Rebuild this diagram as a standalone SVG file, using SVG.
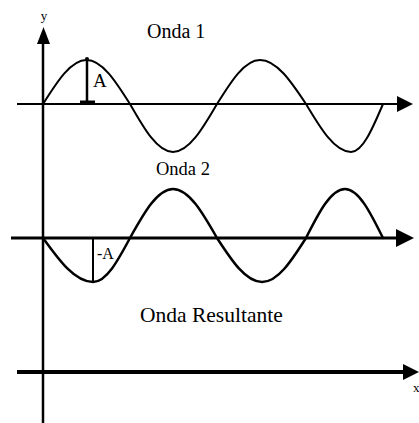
<svg xmlns="http://www.w3.org/2000/svg" width="419" height="423" viewBox="0 0 419 423">
<style>
.ax{stroke:#000;fill:none}
.wave{stroke:#000;fill:none;stroke-linejoin:round;stroke-linecap:round}
.head{fill:#000}
.t{font-family:"Liberation Serif","Times New Roman",serif;fill:#000}
</style>
<rect width="419" height="423" fill="#fff"/>
<g id="axes">
  <line class="ax" x1="43" y1="40" x2="43" y2="423" stroke-width="2.5"/>
  <polygon class="head" points="37,44 43.5,27 50,44"/>
  <line class="ax" x1="17" y1="104" x2="400" y2="104" stroke-width="2"/>
  <polygon class="head" points="397,96 413,104 397,112"/>
  <line class="ax" x1="11" y1="238" x2="400" y2="238" stroke-width="3"/>
  <polygon class="head" points="396,229 414,238 396,247"/>
  <line class="ax" x1="17" y1="372" x2="406" y2="372" stroke-width="4"/>
  <polygon class="head" points="403,364 419,372 403,380"/>
</g>
<g id="onda1">
  <path class="wave" stroke-width="2" d="M43,104 c 14.19,-22.54 27.75,-44 43.5,-44 c 15.75,0 29.31,21.46 43.5,44 c 14.03,24.59 27.43,48 43,48 c 15.93,0 29.65,-23.41 44,-48 c 14.03,-22.54 27.43,-44 43,-44 c 16.66,0 30.99,21.46 46,44 c 14.68,24.59 28.71,48 45,48 c 11.59,0 21.56,-23.41 32,-48"/>
  <line class="ax" x1="87" y1="59" x2="87" y2="103" stroke-width="2.5"/>
  <circle cx="87" cy="59" r="2" class="head"/>
  <line class="ax" x1="80" y1="102" x2="95" y2="102" stroke-width="3"/>
  <text class="t" x="93" y="87" font-size="19">A</text>
  <text class="t" x="147" y="38" font-size="20">Onda 1</text>
</g>
<g id="onda2">
  <path class="wave" stroke-width="2.5" d="M43,238 c 16.31,22.54 31.9,44 50,44 c 13.4,0 24.93,-21.46 37,-44 c 14.03,-25.1 27.43,-49 43,-49 c 15.93,0 29.65,23.9 44,49 c 14.68,22.54 28.71,44 45,44 c 15.93,0 29.65,-21.46 44,-44 c 12.72,-25.1 24.88,-49 39,-49 c 13.76,0 25.6,23.9 38,49"/>
  <line class="ax" x1="93" y1="238" x2="93" y2="282" stroke-width="2"/>
  <text class="t" x="97" y="259" font-size="16">-A</text>
  <text class="t" x="156" y="175" font-size="18.5">Onda 2</text>
</g>
<g id="resultante">
  <text class="t" x="140" y="322" font-size="21.5">Onda Resultante</text>
</g>
<g id="labels">
  <text class="t" x="44" y="20" font-size="13" text-anchor="middle">y</text>
  <text class="t" x="413" y="392" font-size="13">x</text>
</g>
</svg>
